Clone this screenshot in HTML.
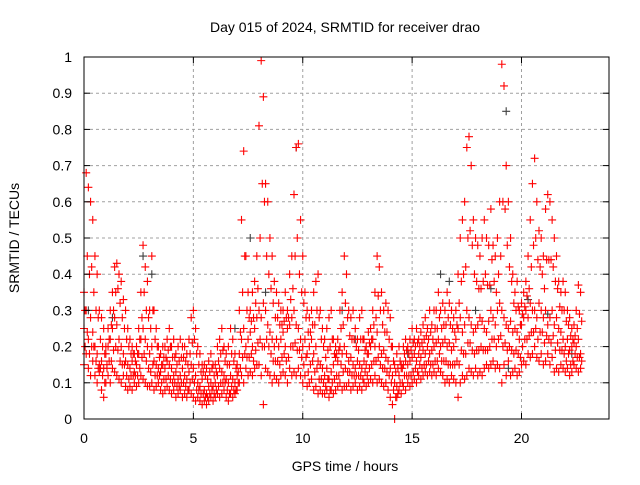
<!DOCTYPE html>
<html><head><meta charset="utf-8"><style>
body{margin:0;background:#fff}
svg text{font-family:"Liberation Sans",sans-serif;font-size:14px;fill:#000}
</style></head><body>
<svg id="chart" width="640" height="480" viewBox="0 0 640 480" xmlns="http://www.w3.org/2000/svg">
<rect width="640" height="480" fill="#fff"/>
<text x="345" y="32" text-anchor="middle">Day 015 of 2024, SRMTID for receiver drao</text>
<text x="345" y="471" text-anchor="middle">GPS time / hours</text>
<text transform="translate(19,238) rotate(-90)" text-anchor="middle">SRMTID / TECUs</text>
<g id="grid"></g>
<g id="marks"></g>
<rect x="84" y="57" width="525" height="362" fill="none" stroke="#000" stroke-width="1"/>
<g id="axes"></g>
</svg>
<script>
const xTicks=[0,5,10,15,20];
const yTicks=[0,0.1,0.2,0.3,0.4,0.5,0.6,0.7,0.8,0.9,1];
const yTickLabels=["0","0.1","0.2","0.3","0.4","0.5","0.6","0.7","0.8","0.9","1"];
const timeStep=0.1;
const hiVals=[.35,.68,.64,.60,.55,.45,.40,.30,.28,.25,.20,.25,.30,.35,.42,.43,.40,.38,.33,.30,.25,.22,.20,.18,.20,.25,.35,.48,.42,.38,.30,.45,.30,.25,.20,.18,.20,.20,.22,.25,.20,.22,.18,.20,.22,.20,.20,.18,.22,.28,.30,.25,.20,.18,.15,.15,.14,.16,.18,.15,.15,.20,.22,.25,.20,.18,.20,.25,.22,.18,.15,.30,.55,.74,.45,.35,.30,.35,.38,.45,.81,.99,.89,.65,.60,.50,.45,.38,.35,.32,.30,.30,.35,.30,.40,.45,.62,.75,.76,.55,.45,.35,.30,.28,.30,.35,.38,.40,.30,.25,.22,.25,.28,.30,.22,.20,.22,.30,.35,.45,.40,.30,.28,.30,.25,.22,.28,.30,.22,.20,.24,.25,.30,.35,.45,.42,.35,.30,.32,.30,.28,.20,.15,.18,.20,.15,.20,.22,.20,.22,.25,.22,.25,.22,.24,.26,.28,.25,.30,.26,.30,.30,.35,.30,.32,.30,.35,.32,.30,.28,.30,.40,.50,.55,.60,.75,.78,.70,.55,.50,.48,.45,.50,.55,.50,.48,.58,.48,.45,.50,.60,.98,.92,.70,.60,.50,.40,.35,.38,.30,.32,.35,.38,.45,.55,.65,.72,.60,.52,.50,.45,.58,.62,.60,.55,.50,.45,.38,.35,.38,.35,.30,.28,.25,.26,.30,.37,.35];
const upperMidVals=[.30,.45,.40,.42,.35,.30,.28,.22,.20,.18,.15,.22,.26,.30,.35,.36,.32,.28,.25,.22,.20,.18,.18,.16,.18,.22,.28,.35,.30,.28,.25,.30,.22,.20,.17,.15,.17,.17,.19,.20,.17,.17,.15,.16,.17,.17,.16,.15,.18,.21,.22,.18,.15,.13,.13,.12,.11,.13,.14,.12,.13,.16,.18,.19,.16,.15,.15,.18,.16,.14,.13,.24,.35,.45,.30,.28,.27,.28,.32,.36,.50,.65,.60,.45,.40,.36,.32,.28,.28,.26,.26,.27,.28,.28,.33,.36,.45,.50,.40,.35,.32,.28,.24,.24,.26,.26,.30,.28,.22,.20,.17,.19,.20,.22,.18,.18,.19,.25,.26,.32,.28,.23,.22,.22,.20,.19,.22,.22,.19,.18,.21,.22,.26,.28,.34,.30,.26,.24,.24,.22,.20,.16,.13,.14,.16,.14,.18,.19,.18,.19,.21,.20,.21,.20,.21,.22,.23,.22,.24,.22,.25,.25,.28,.25,.26,.26,.28,.26,.25,.24,.26,.32,.38,.40,.42,.50,.52,.48,.40,.38,.36,.36,.38,.40,.37,.37,.44,.38,.35,.40,.45,.60,.58,.48,.42,.38,.32,.30,.31,.26,.29,.31,.34,.36,.42,.48,.50,.44,.42,.40,.36,.44,.44,.44,.42,.38,.36,.31,.30,.30,.27,.26,.23,.22,.23,.25,.29,.27];
const midVals=[.25,.30,.22,.28,.24,.20,.18,.15,.16,.14,.18,.20,.22,.25,.28,.26,.22,.20,.18,.16,.15,.14,.16,.13,.15,.18,.22,.25,.22,.20,.18,.20,.16,.15,.14,.13,.15,.14,.16,.15,.14,.12,.13,.11,.12,.14,.12,.11,.13,.15,.14,.12,.10,.09,.11,.08,.07,.09,.10,.09,.10,.12,.14,.13,.12,.11,.10,.12,.11,.10,.12,.18,.22,.25,.20,.22,.24,.20,.25,.28,.30,.28,.32,.30,.26,.24,.22,.20,.22,.20,.22,.24,.20,.25,.26,.28,.30,.26,.25,.22,.20,.22,.18,.20,.22,.18,.20,.16,.15,.14,.12,.14,.11,.13,.15,.17,.16,.20,.18,.20,.18,.16,.17,.15,.14,.16,.15,.14,.16,.15,.18,.20,.22,.20,.24,.20,.18,.19,.17,.16,.14,.12,.10,.09,.12,.14,.15,.16,.15,.16,.17,.18,.16,.18,.17,.19,.18,.20,.18,.19,.20,.21,.22,.20,.21,.22,.20,.21,.19,.20,.22,.25,.28,.24,.26,.30,.28,.26,.24,.25,.26,.28,.27,.25,.24,.27,.30,.28,.26,.30,.32,.30,.28,.26,.25,.27,.24,.25,.24,.22,.26,.28,.30,.28,.32,.30,.30,.28,.32,.30,.28,.30,.26,.28,.30,.26,.28,.25,.24,.22,.20,.22,.19,.20,.21,.20,.22,.18];
const lowerMidVals=[.20,.24,.18,.20,.20,.16,.14,.14,.12,.10,.14,.16,.16,.19,.20,.19,.16,.15,.15,.12,.11,.12,.12,.12,.12,.14,.17,.18,.16,.14,.13,.15,.12,.12,.12,.10,.11,.11,.12,.11,.10,.10,.09,.09,.10,.10,.09,.08,.10,.11,.10,.08,.08,.07,.07,.06,.06,.07,.08,.07,.08,.09,.10,.10,.10,.08,.07,.09,.08,.08,.10,.14,.17,.18,.17,.17,.18,.16,.19,.21,.22,.20,.20,.22,.20,.18,.16,.16,.16,.15,.17,.18,.16,.17,.20,.20,.21,.19,.19,.17,.15,.17,.13,.15,.16,.13,.14,.11,.11,.10,.09,.11,.08,.10,.11,.12,.12,.15,.13,.14,.13,.13,.12,.12,.12,.12,.12,.11,.13,.12,.14,.15,.16,.16,.17,.15,.14,.14,.13,.12,.10,.08,.06,.07,.10,.10,.12,.12,.12,.12,.13,.14,.13,.15,.14,.15,.15,.16,.15,.15,.16,.16,.18,.16,.16,.16,.15,.15,.15,.15,.16,.15,.19,.18,.18,.21,.21,.19,.18,.19,.19,.20,.19,.19,.19,.20,.22,.22,.20,.22,.23,.20,.21,.19,.20,.19,.18,.19,.18,.17,.20,.22,.22,.23,.24,.24,.25,.22,.24,.24,.21,.23,.22,.21,.23,.19,.21,.19,.19,.18,.16,.18,.15,.16,.18,.17,.17,.16];
const loVals=[.15,.18,.14,.12,.16,.12,.10,.13,.08,.06,.10,.12,.10,.14,.13,.12,.11,.10,.12,.09,.08,.09,.08,.10,.09,.10,.12,.11,.10,.09,.09,.10,.08,.09,.10,.08,.07,.08,.09,.08,.07,.08,.06,.07,.08,.06,.07,.06,.08,.07,.06,.05,.06,.05,.04,.05,.04,.05,.06,.05,.06,.07,.06,.07,.08,.06,.05,.07,.06,.07,.08,.10,.12,.10,.14,.12,.13,.12,.14,.15,.15,.12,.04,.14,.13,.12,.10,.12,.11,.10,.12,.13,.12,.10,.14,.12,.13,.12,.14,.12,.10,.12,.09,.10,.11,.08,.09,.07,.08,.07,.07,.08,.06,.08,.07,.08,.09,.10,.08,.09,.09,.10,.08,.09,.10,.08,.09,.08,.10,.09,.10,.11,.10,.12,.10,.11,.10,.09,.10,.08,.06,.04,.00,.06,.08,.07,.09,.08,.10,.09,.10,.11,.10,.12,.11,.12,.13,.12,.13,.12,.13,.12,.14,.13,.12,.10,.11,.10,.12,.11,.10,.06,.10,.12,.11,.12,.14,.13,.12,.14,.12,.13,.12,.14,.15,.14,.15,.16,.14,.15,.14,.10,.15,.12,.16,.12,.13,.14,.12,.13,.15,.16,.15,.18,.17,.18,.20,.17,.16,.18,.15,.16,.18,.15,.17,.13,.14,.13,.15,.14,.13,.14,.12,.13,.15,.14,.13,.14];
const grayTimes=[0.2,1.3,2.7,3.1,6.9,7.6,8.3,9.7,11.8,12.4,14.8,16.3,16.7,17.9,18.6,19.3,19.4,20.3,21.2,22.3];
const grayVals=[0.30,0.28,0.45,0.40,0.25,0.50,0.35,0.75,0.30,0.22,0.18,0.40,0.38,0.30,0.36,0.85,0.14,0.33,0.29,0.18];

const X0=84,X1=609,Y0=419,Y1=57,XMAX=24;
const xs=v=>X0+v/XMAX*(X1-X0);
const ys=v=>Y0-v*(Y0-Y1);
const NS="http://www.w3.org/2000/svg";
const grid=document.getElementById('grid'),axes=document.getElementById('axes'),marks=document.getElementById('marks');
function mk(tag,parent){const e=document.createElementNS(NS,tag);parent.appendChild(e);return e;}
yTicks.forEach((t,i)=>{
  const y=ys(t);
  if(i>0&&i<yTicks.length-1){const g=mk('line',grid);
    
    
    g.setAttribute('x1',X0);g.setAttribute('x2',X1);g.setAttribute('y1',y);g.setAttribute('y2',y);
    g.setAttribute('stroke','#a0a0a0');g.setAttribute('stroke-dasharray','3,3');}
  [[X0,X0+6],[X1-6,X1]].forEach(p=>{const l=mk('line',axes);
    
    
    l.setAttribute('x1',p[0]);l.setAttribute('x2',p[1]);l.setAttribute('y1',y);l.setAttribute('y2',y);l.setAttribute('stroke','#000');});
  const tx=mk('text',axes);
  
  
  tx.setAttribute('x',72);tx.setAttribute('y',y+5);tx.setAttribute('text-anchor','end');tx.textContent=yTickLabels[i];
});
xTicks.forEach(t=>{
  const x=xs(t);
  if(t>0){const g=mk('line',grid);
    
    
    g.setAttribute('x1',x);g.setAttribute('x2',x);g.setAttribute('y1',Y1);g.setAttribute('y2',Y0);
    g.setAttribute('stroke','#a0a0a0');g.setAttribute('stroke-dasharray','3,3');}
  [[Y0,Y0-6],[Y1,Y1+6]].forEach(p=>{const l=mk('line',axes);
    
    
    l.setAttribute('x1',x);l.setAttribute('x2',x);l.setAttribute('y1',p[0]);l.setAttribute('y2',p[1]);l.setAttribute('stroke','#000');});
  const tx=mk('text',axes);
  
  
  tx.setAttribute('x',x);tx.setAttribute('y',443);tx.setAttribute('text-anchor','middle');tx.textContent=String(t);
});
function plus(t,v,color){
  const x=xs(t),y=ys(v);
  const p=mk('path',marks);
  
  
  p.setAttribute('d',`M${x-4},${y}H${x+4}M${x},${y-4}V${y+4}`);
  p.setAttribute('stroke',color);p.setAttribute('stroke-width','1.1');p.setAttribute('fill','none');
}
grayTimes.forEach((t,i)=>plus(t,grayVals[i],'#404040'));
[loVals,midVals,hiVals].forEach(arr=>arr.forEach((v,i)=>plus(i*timeStep,v,'#ff0000')));
[lowerMidVals,upperMidVals].forEach(arr=>arr.forEach((v,i)=>plus(i*timeStep+0.05,v,'#ff0000')));
</script>
</body></html>
